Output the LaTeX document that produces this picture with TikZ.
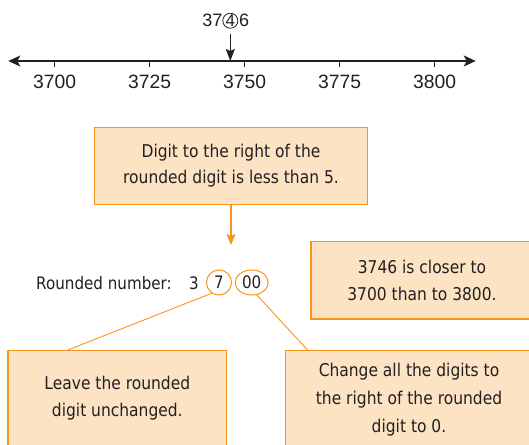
\documentclass[tikz,border=0pt]{standalone}
\usepackage{fontspec}
\setmainfont{Liberation Sans}
\newfontfamily\newsg[FakeStretch=0.88]{DejaVu Sans}
\usetikzlibrary{arrows.meta,shapes.geometric,calc}
\definecolor{peach}{RGB}{252,227,196}
\definecolor{orng}{RGB}{247,148,30}
\definecolor{ink}{RGB}{35,31,32}
\begin{document}
\begin{tikzpicture}[x=1pt,y=-1pt,
  box/.style={draw=orng,line width=1.2pt,fill=peach,text=ink,align=center,font=\newsg\fontsize{17.6}{26.5}\selectfont,inner sep=0pt},
  lbl/.style={text=ink,font=\fontsize{18}{21}\selectfont,inner sep=0pt},
  tlbl/.style={text=ink,font=\fontsize{19.3}{22}\selectfont,inner sep=0pt},
  rlbl/.style={text=ink,font=\newsg\fontsize{17.2}{20}\selectfont,inner sep=0pt},
  conn/.style={draw=orng,line width=0.9pt},
  ring/.style={draw=orng,line width=1pt,ellipse,inner sep=0pt,text=ink,font=\newsg\fontsize{17.2}{20}\selectfont},
  axis/.style={draw=ink,line width=1.3pt}]
\useasboundingbox (0,0) rectangle (529,444);
\begin{scope}
\clip (0,0) rectangle (529,444);
% number line
\coordinate (nl) at (8.3,61);
\coordinate (nr) at (475.7,61);
\draw[axis,{Stealth[length=12pt,width=11pt,inset=3pt]}-{Stealth[length=12pt,width=11pt,inset=3pt]}] (nl) -- (nr);
\foreach \v [count=\i from 0] in {3700,3725,3750,3775,3800} {
  \draw[axis] (54.3+95*\i,61) -- ++(0,6);
  \node[tlbl] (t\i) at (54.6+95*\i,81.7) {\v};
}
% 37(4)6
\node[lbl,anchor=base east] (n37) at (222.5,27) {37};
\node[circle,draw=ink,line width=0.8pt,minimum size=14.5pt,inner sep=0pt,text=ink,font=\fontsize{17}{20}\selectfont] (c4) at (230.3,20.7) {4};
\node[lbl,anchor=base west] (n6) at (239,27) {6};
\draw[axis,-{Stealth[length=12pt,width=9pt,inset=2pt]}] ([yshift=-5pt]c4.south) -- (c4.south |- nl);
% top box
\node[box,minimum width=273.4pt,minimum height=77pt] (tb) at (231,165.8) {Digit to the right of the\\rounded digit is less than 5.};
\coordinate (tbend) at (231,245);
\draw[orng,line width=1.3pt,-{Stealth[length=11pt,width=9pt,inset=2pt]}] (tb.south) -- (tbend);
% middle right box
\node[box,minimum width=222pt,minimum height=77.3pt] (mb) at (422,280.3) {3746 is closer to\\3700 than to 3800.};
% rounded number
\node[rlbl,anchor=base west] (rn) at (36,289) {Rounded number:};
\node[rlbl,anchor=base] (d3) at (194,289) {3};
\node[ring,minimum width=25pt,minimum height=25pt] (c7) at (219,282.5) {7};
\node[ring,minimum width=33pt,minimum height=25pt] (c00) at (251.7,282.5) {00};
% bottom boxes
\node[box,minimum width=218.7pt,minimum height=95.3pt] (bl) at (117.3,398.3) {Leave the rounded\\digit unchanged.};
\node[box,minimum width=246.6pt,minimum height=97.8pt,font=\newsg\fontsize{17.6}{27.6}\selectfont] (br) at (409,399.6) {Change all the digits to\\the right of the rounded\\digit to 0.};
% connectors
\draw[conn] (c7.-124) -- ($(bl.north west)+(60.3,0)$);
\draw[conn] (c00.-68) -- ($(br.north west)+(22.5,0)$);
\end{scope}
\end{tikzpicture}
\end{document}
